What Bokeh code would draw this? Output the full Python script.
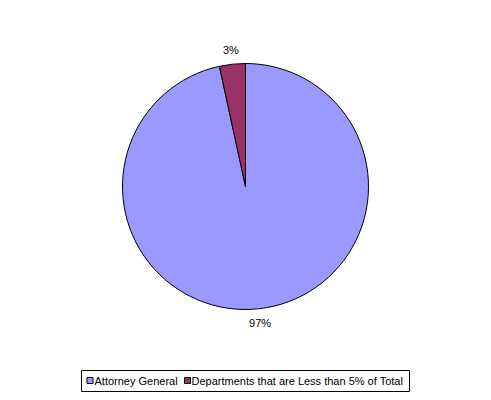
import math
from bokeh.plotting import figure
from bokeh.models import Range1d, ColumnDataSource
from bokeh.core.properties import value
from bokeh.embed import file_html
from bokeh.resources import INLINE

categories = ["Attorney General", "Departments that are Less than 5% of Total"]
shares = [96.6, 3.4]
pct_labels = ["97%", "3%"]
colors = ["#9999FF", "#993366"]

W, H = 491, 400
p = figure(width=W, height=H, output_backend="svg", toolbar_location=None,
           x_range=Range1d(0, W), y_range=Range1d(0, H), min_border=0,
           background_fill_color="white", border_fill_color="white")
p.axis.visible = False
p.grid.visible = False
p.outline_line_color = None

def Y(v):
    return H - v

# pie geometry (pixels in window space)
cx, cy, r = 245, Y(186), 123
total = sum(shares)
starts, ends, lx, ly = [], [], [], []
acc = 0.0
for s in shares:
    a0 = math.pi / 2 - 2 * math.pi * acc / total
    acc += s
    a1 = math.pi / 2 - 2 * math.pi * acc / total
    starts.append(a0)
    ends.append(a1)
    mid = (a0 + a1) / 2
    lx.append(cx + 137 * math.cos(mid))
    ly.append(cy + 137 * math.sin(mid))

src = ColumnDataSource(dict(start=starts, end=ends, color=colors, lx=lx, ly=ly, lab=pct_labels))
p.wedge(x=cx, y=cy, radius=r, start_angle="start", end_angle="end", direction="clock",
        fill_color="color", line_color="black", line_width=1, source=src)
p.text(x="lx", y="ly", text="lab", source=src, text_font=value("Liberation Sans"),
       text_font_size="11px", text_align="center", text_baseline="middle", text_color="black")

# legend box
p.quad(left=81, right=409, bottom=Y(391), top=Y(370), fill_color="white", line_color="black", line_width=1)
sq_x = [89.5, 187]
tx = [94, 191]
p.rect(x=sq_x, y=[Y(380)] * 2, width=6, height=6, fill_color=colors, line_color="black", line_width=1)
p.text(x=tx, y=[Y(380)] * 2, text=categories, text_font=value("Liberation Sans"),
       text_font_size="11px", text_align="left", text_baseline="middle", text_color="black")

open("out.html", "w").write(file_html(p, INLINE))
